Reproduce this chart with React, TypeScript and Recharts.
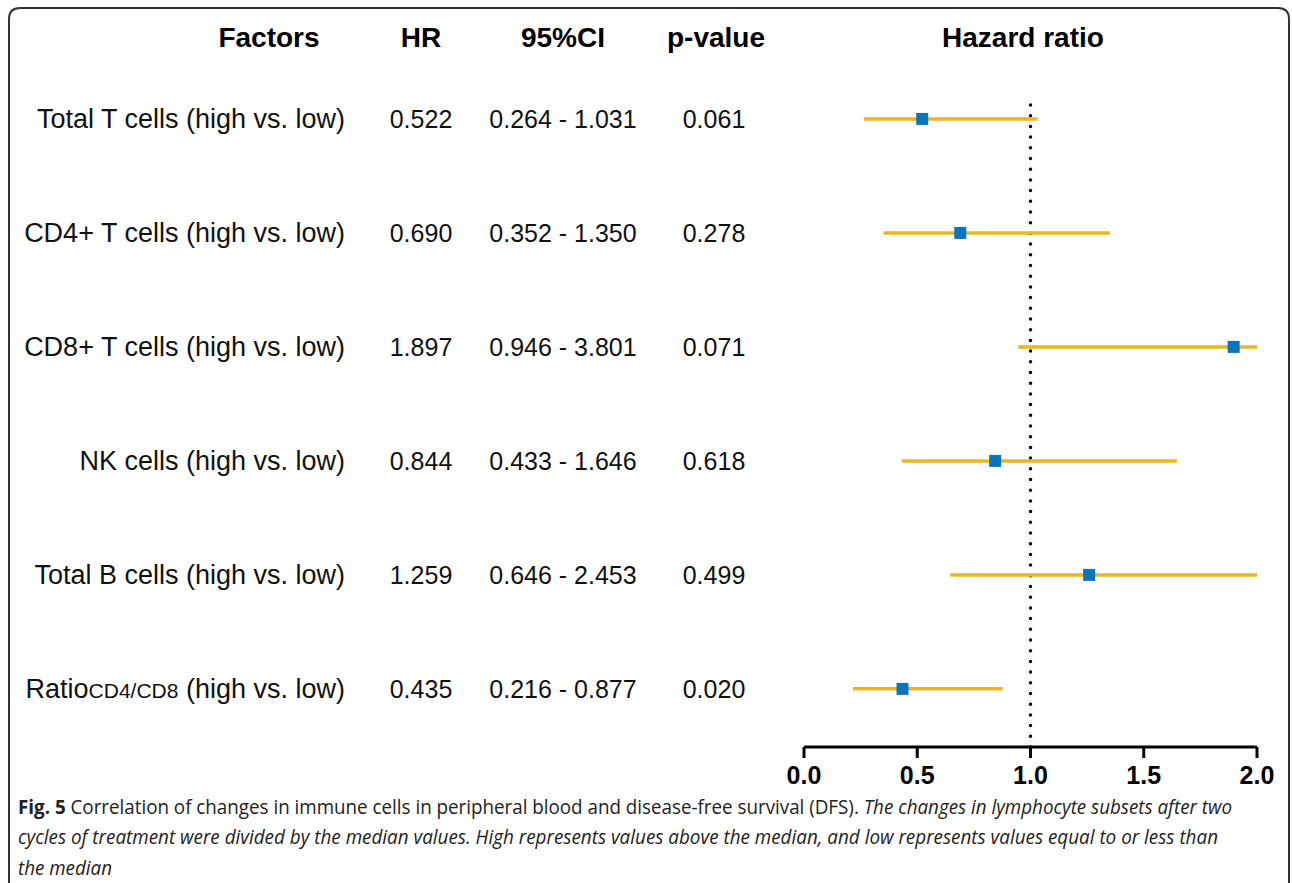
import React from "react";
import {
  ScatterChart,
  Scatter,
  XAxis,
  YAxis,
  ErrorBar,
  ReferenceLine,
} from "recharts";

const factors = [
  "Total T cells (high vs. low)",
  "CD4+ T cells (high vs. low)",
  "CD8+ T cells (high vs. low)",
  "NK cells (high vs. low)",
  "Total B cells (high vs. low)",
  "RatioCD4/CD8 (high vs. low)",
];
const hr = [0.522, 0.69, 1.897, 0.844, 1.259, 0.435];
const ciLow = [0.264, 0.352, 0.946, 0.433, 0.646, 0.216];
const ciHigh = [1.031, 1.35, 3.801, 1.646, 2.453, 0.877];
const pValues = ["0.061", "0.278", "0.071", "0.618", "0.499", "0.020"];
const xTicks = [0, 0.5, 1, 1.5, 2];
const xMax = 2;

const data = factors.map((f, i) => ({
  row: i,
  hr: hr[i],
  err: [hr[i] - ciLow[i], Math.min(ciHigh[i], xMax) - hr[i]],
}));

const FONT = "Arial, 'Liberation Sans', sans-serif";
const GOLD = "#e8b71c";
const BLUE = "#0a74bd";

function RowTick(props: any) {
  const { y, payload } = props;
  const i = payload.value as number;
  const label = factors[i];
  const common = { fontFamily: FONT, fontSize: 25, fill: "#111" };
  const lab = { ...common, fontSize: 27 };
  return (
    <g>
      {label.startsWith("Ratio") ? (
        <text x={345} y={y} dy={9} textAnchor="end" {...lab}>
          Ratio
          <tspan fontSize={21}>CD4/CD8</tspan>
          {label.slice("RatioCD4/CD8".length)}
        </text>
      ) : (
        <text x={345} y={y} dy={9} textAnchor="end" {...lab}>
          {label}
        </text>
      )}
      <text x={421} y={y} dy={9} textAnchor="middle" {...common}>
        {hr[i].toFixed(3)}
      </text>
      <text x={563} y={y} dy={9} textAnchor="middle" {...common}>
        {ciLow[i].toFixed(3)} - {ciHigh[i].toFixed(3)}
      </text>
      <text x={714} y={y} dy={9} textAnchor="middle" {...common}>
        {pValues[i]}
      </text>
    </g>
  );
}

const Square = (props: any) => {
  const { cx, cy } = props;
  return <rect x={cx - 6} y={cy - 6} width={12} height={12} fill={BLUE} />;
};

export default function App() {
  return (
    <div
      style={{
        position: "absolute",
        left: 0,
        top: 0,
        width: 1292,
        height: 883,
        overflow: "hidden",
        background: "#fff",
      }}
    >
      <div style={{ position: "absolute", left: 0, top: 0 }}>
        <ScatterChart
          width={1292}
          height={790}
          margin={{ top: 95, right: 35, left: 0, bottom: 0 }}
        >
          <XAxis
            type="number"
            dataKey="hr"
            domain={[0, xMax]}
            ticks={xTicks}
            allowDataOverflow
            tickFormatter={(v: number) => v.toFixed(1)}
            axisLine={{ stroke: "#000", strokeWidth: 3 }}
            tickLine={{ stroke: "#000", strokeWidth: 3 }}
            tickSize={11}
            height={43}
            tick={{
              fontFamily: FONT,
              fontSize: 25,
              fontWeight: "bold",
              fill: "#000",
              dy: 6,
            }}
          />
          <YAxis
            type="number"
            dataKey="row"
            domain={[-0.21, 5.51]}
            reversed
            ticks={[0, 1, 2, 3, 4, 5]}
            interval={0}
            width={804}
            axisLine={false}
            tickLine={false}
            tick={<RowTick />}
          />
          <ReferenceLine
            x={1}
            stroke="#000"
            strokeWidth={3.5}
            strokeDasharray="0 10.7"
            strokeLinecap="round"
          />
          <Scatter data={data} shape={<Square />} isAnimationActive={false}>
            <ErrorBar
              dataKey="err"
              direction="x"
              width={0}
              stroke={GOLD}
              strokeWidth={3.5}
            />
          </Scatter>
        </ScatterChart>
      </div>
      <svg
        width={1292}
        height={883}
        style={{ position: "absolute", left: 0, top: 0, pointerEvents: "none" }}
      >
        <path
          d="M9,900 L9,19 Q9,8 20,8 L1278,8 Q1289,8 1289,19 L1289,900"
          fill="none"
          stroke="#333"
          strokeWidth={2}
        />
        <g fontFamily={FONT} fontSize={28} fontWeight="bold" fill="#000">
          <text x={269} y={47} textAnchor="middle">Factors</text>
          <text x={421} y={47} textAnchor="middle">HR</text>
          <text x={563} y={47} textAnchor="middle">95%CI</text>
          <text x={716} y={47} textAnchor="middle">p-value</text>
          <text x={1023} y={47} textAnchor="middle">Hazard ratio</text>
        </g>
        <g fontFamily="'Open Sans', sans-serif" fontSize={20} fill="#222">
          <text x={18} y={814} textLength={1214} lengthAdjust="spacingAndGlyphs">
            <tspan fontWeight="bold">Fig. 5</tspan> Correlation of changes in immune
            cells in peripheral blood and disease-free survival (DFS).{" "}
            <tspan fontStyle="italic">
              The changes in lymphocyte subsets after two
            </tspan>
          </text>
          <text
            x={18}
            y={844}
            fontStyle="italic"
            textLength={1200}
            lengthAdjust="spacingAndGlyphs"
          >
            cycles of treatment were divided by the median values. High represents
            values above the median, and low represents values equal to or less than
          </text>
          <text
            x={18}
            y={875}
            fontStyle="italic"
            textLength={94}
            lengthAdjust="spacingAndGlyphs"
          >
            the median
          </text>
        </g>
      </svg>
    </div>
  );
}
